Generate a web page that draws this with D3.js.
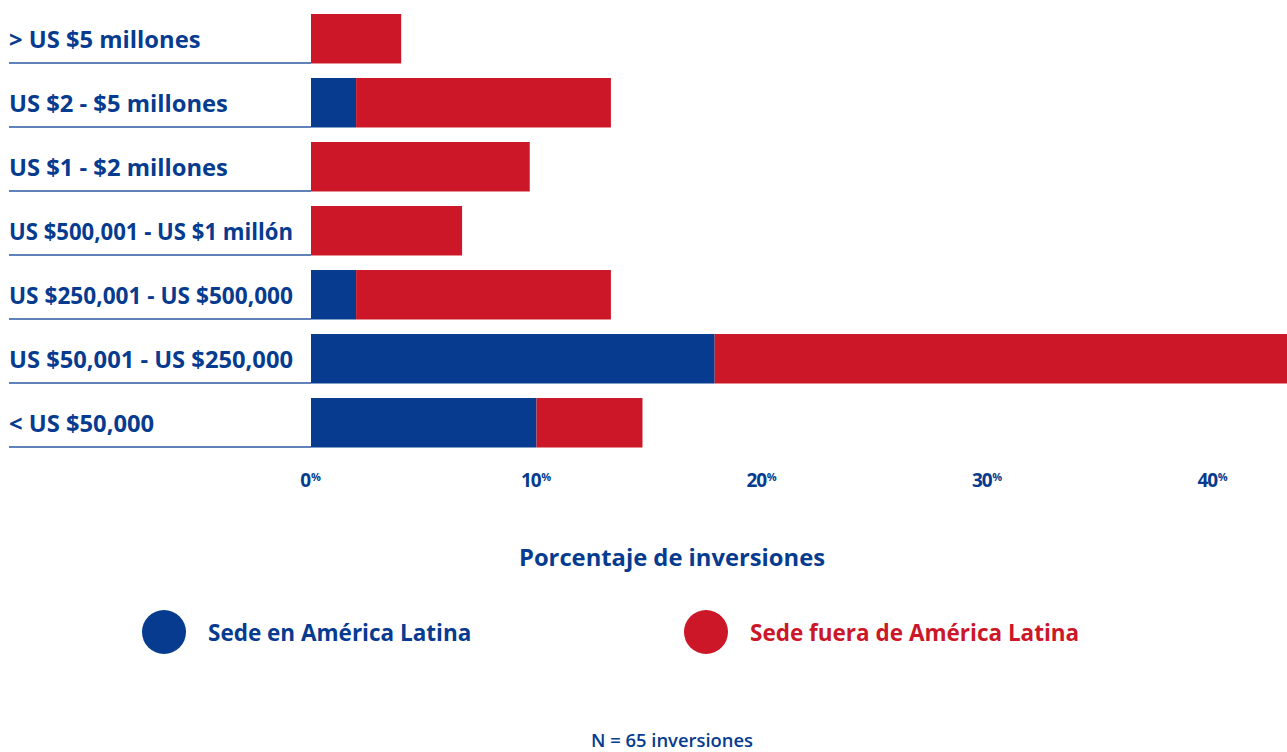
<!DOCTYPE html>
<html lang="es">
<head>
    <meta charset="UTF-8">
    <title>Porcentaje de inversiones</title>
    <script src="https://d3js.org/d3.v7.min.js"></script>
    <style>
        body { margin: 0; background: #fff; }
        svg { display: block; font-family: "Open Sans", "Noto Sans", sans-serif; }
    </style>
</head>
<body>
<svg id="chart"></svg>
<script>
    // categories, top to bottom
    var categories = [
        "> US $5 millones",
        "US $2 - $5 millones",
        "US $1 - $2 millones",
        "US $500,001 - US $1 millón",
        "US $250,001 - US $500,000",
        "US $50,001 - US $250,000",
        "< US $50,000"
    ];
    // percentage of investments
    var latam  = [0, 2.0, 0, 0, 2.0, 17.9, 10.0];
    var fuera  = [4.0, 11.3, 9.7, 6.7, 11.3, 25.4, 4.7];
    var ticks = [0, 10, 20, 30, 40];
    var seriesNames = ["Sede en América Latina", "Sede fuera de América Latina"];

    var blue = "#063b8f", red = "#cc1729";
    var width = 1287, height = 752;

    var svg = d3.select("#chart").attr("width", width).attr("height", height);

    var rows = categories.map(function (c, i) {
        return {cat: c, latam: latam[i], fuera: fuera[i]};
    });

    var x = d3.scaleLinear().domain([0, 40]).range([311, 1213]);
    var y = d3.scaleBand().domain(categories).range([14, 447.5]).paddingInner(0.227).paddingOuter(0);
    var color = d3.scaleOrdinal().domain(["latam", "fuera"]).range([blue, red]);

    var layers = d3.stack().keys(["latam", "fuera"])(rows);

    // bars
    svg.append("g").selectAll("g")
        .data(layers)
        .join("g")
        .attr("fill", function (d) { return color(d.key); })
        .selectAll("rect")
        .data(function (d) { return d; })
        .join("rect")
        .attr("x", function (d) { return x(d[0]); })
        .attr("y", function (d) { return y(d.data.cat); })
        .attr("width", function (d) { return Math.max(0, x(d[1]) - x(d[0])); })
        .attr("height", y.bandwidth());

    // row labels with underline
    var lab = svg.append("g").selectAll("g")
        .data(categories)
        .join("g")
        .attr("transform", function (d) { return "translate(0," + y(d) + ")"; });

    lab.append("line")
        .attr("x1", 9).attr("x2", x(0))
        .attr("y1", y.bandwidth() - 0.5).attr("y2", y.bandwidth() - 0.5)
        .attr("stroke", "#2c57a3").attr("stroke-width", 1.3);

    var maxLabel = 284, labelSize = 23.75;
    lab.append("text")
        .attr("x", 9)
        .attr("y", 34)
        .attr("fill", blue)
        .attr("font-size", labelSize)
        .attr("font-weight", 700)
        .text(function (d) { return d; })
        .each(function () {
            // long labels get squeezed to fit in front of the bars
            var w = this.getComputedTextLength();
            if (w > maxLabel) {
                d3.select(this)
                    .attr("font-size", labelSize * Math.sqrt(maxLabel / w))
                    .attr("textLength", maxLabel)
                    .attr("lengthAdjust", "spacingAndGlyphs");
            }
        });

    // x axis tick labels with superscript %
    var tk = svg.append("g").selectAll("text")
        .data(ticks)
        .join("text")
        .attr("x", function (d) { return x(d) - 1; })
        .attr("y", 487)
        .attr("text-anchor", "middle")
        .attr("fill", blue)
        .attr("font-weight", 700)
        .attr("font-size", 19)
        .attr("letter-spacing", -1.2);
    tk.append("tspan").text(function (d) { return d; });
    tk.append("tspan")
        .attr("font-size", 11)
        .attr("dx", 1)
        .attr("dy", -6)
        .text("%");

    // axis title
    svg.append("text")
        .attr("x", 672)
        .attr("y", 566)
        .attr("text-anchor", "middle")
        .attr("fill", blue)
        .attr("font-size", 23.75)
        .attr("font-weight", 700)
        .text("Porcentaje de inversiones");

    // legend
    var legend = svg.append("g").selectAll("g")
        .data(seriesNames)
        .join("g")
        .attr("transform", function (d, i) { return "translate(" + (i === 0 ? 164 : 706) + ",632)"; });
    legend.append("circle")
        .attr("r", 22)
        .attr("fill", function (d, i) { return i === 0 ? blue : red; });
    legend.append("text")
        .attr("x", 44)
        .attr("y", 9)
        .attr("fill", function (d, i) { return i === 0 ? blue : red; })
        .attr("font-size", 22.5)
        .attr("font-weight", 700)
        .text(function (d) { return d; });

    // footnote
    svg.append("text")
        .attr("x", 672)
        .attr("y", 747)
        .attr("text-anchor", "middle")
        .attr("fill", blue)
        .attr("font-size", 18.4)
        .attr("font-weight", 600)
        .text("N = 65 inversiones");
</script>
</body>
</html>
